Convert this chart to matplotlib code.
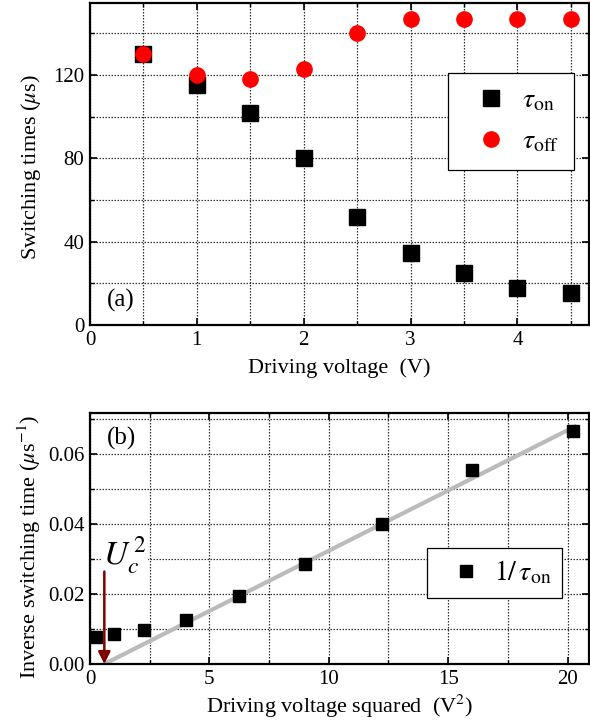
import matplotlib
matplotlib.use("Agg")
import matplotlib.pyplot as plt
from matplotlib.ticker import MultipleLocator, FormatStrFormatter

plt.rcParams['font.family'] = ['Liberation Serif', 'DejaVu Serif']
plt.rcParams['mathtext.fontset'] = 'stix'

# Panel (a) data
voltage = [0.5, 1.0, 1.5, 2.0, 2.5, 3.0, 3.5, 4.0, 4.5]
tau_on = [130, 115, 102, 80, 52, 34.7, 24.8, 17.9, 15.2]
tau_off = [130, 120, 118, 123, 140, 147, 147, 147, 147]

# Panel (b) data
voltage_sq = [0.25, 1.0, 2.25, 4.0, 6.25, 9.0, 12.25, 16.0, 20.25]
inv_tau_on = [0.0077, 0.0087, 0.0098, 0.0125, 0.0193, 0.0287, 0.0400, 0.0555, 0.0665]
fit_x = [0.6, 20.3]
fit_y = [0.0, 0.0678]
uc2 = 0.6

fig = plt.figure(figsize=(5.9, 7.25), dpi=100)
ax1 = fig.add_axes([90/590, 1-325/725, 499/590, 322/725])
ax2 = fig.add_axes([90/590, 1-664/725, 499/590, 251/725])

grid_kw = dict(color='#333333', linestyle=(0, (1.2, 1.2)), linewidth=0.9)
for ax in (ax1, ax2):
    for s in ax.spines.values():
        s.set_linewidth(1.6)
    ax.tick_params(which='both', direction='in', top=True, right=True, labelsize=15, pad=4)
    ax.tick_params(which='major', length=5, width=1.2)
    ax.tick_params(which='minor', length=3, width=1.0)
    ax.grid(True, which='both', **grid_kw)
    ax.set_axisbelow(True)

# (a)
ax1.plot(voltage, tau_on, 's', color='black', markersize=11, label=r'$\tau_{\rm on}$', zorder=3)
ax1.plot(voltage, tau_off, 'o', color='#ff0000', markersize=11, label=r'$\tau_{\rm off}$', zorder=4)
ax1.set_xlim(0, 4.67)
ax1.set_ylim(0, 154.6)
ax1.xaxis.set_major_locator(MultipleLocator(1))
ax1.xaxis.set_minor_locator(MultipleLocator(0.5))
ax1.yaxis.set_major_locator(MultipleLocator(40))
ax1.yaxis.set_minor_locator(MultipleLocator(20))
ax1.set_xlabel('Driving voltage  (V)', fontsize=16, labelpad=6)
ax1.set_ylabel(r'Switching times ($\mu$s)', fontsize=16)
ax1.yaxis.set_label_coords(-0.094, 0.49)
ax1.text(0.16, 12, '(a)', fontsize=18, ha='left', va='center',
         bbox=dict(facecolor='white', edgecolor='none', pad=1), zorder=5)
leg1 = ax1.legend(loc='upper left', bbox_to_anchor=(358/499, 1-(73-3)/322), fontsize=20,
                  frameon=True, fancybox=False, edgecolor='black', framealpha=1,
                  handletextpad=0.1, borderpad=0.55, labelspacing=0.55, borderaxespad=0,
                  handlelength=2.0, markerscale=1.0)
leg1.get_frame().set_linewidth(0.9)

# (b)
ax2.plot(fit_x, fit_y, '-', color='#bbbbbb', linewidth=3, zorder=2)
ax2.plot(voltage_sq, inv_tau_on, 's', color='black', markersize=9, label=r'$1/\,\tau_{\rm on}\ \ $', zorder=3)
ax2.set_xlim(0, 20.9)
ax2.set_ylim(0, 0.0717)
ax2.xaxis.set_major_locator(MultipleLocator(5))
ax2.xaxis.set_minor_locator(MultipleLocator(2.5))
ax2.yaxis.set_major_locator(MultipleLocator(0.02))
ax2.yaxis.set_minor_locator(MultipleLocator(0.01))
ax2.yaxis.set_major_formatter(FormatStrFormatter('%.2f'))
ax2.set_xlabel(r'Driving voltage squared  (V$^2$)', fontsize=16, labelpad=3)
ax2.set_ylabel(r'Inverse switching time ($\mu$s$^{-1}$)', fontsize=16)
ax2.yaxis.set_label_coords(-0.094, 0.466)
ax2.text(0.7, 0.0645, '(b)', fontsize=18, ha='left', va='center',
         bbox=dict(facecolor='white', edgecolor='none', pad=1), zorder=5)
ax2.annotate('', xy=(uc2, 0.0), xytext=(uc2, 0.0264),
             arrowprops=dict(arrowstyle='-|>', color='#800000', lw=1.8, mutation_scale=18,
                             shrinkA=0, shrinkB=0), zorder=6)
ax2.text(0.55, 0.0312, r'$U_c^{\,2}$', fontsize=24, ha='left', va='center',
         bbox=dict(facecolor='white', edgecolor='none', pad=1), zorder=5)
leg2 = ax2.legend(loc='upper left', bbox_to_anchor=(337/499, 1-(548-413)/251), fontsize=20,
                  frameon=True, fancybox=False, edgecolor='black', framealpha=1,
                  handletextpad=0.0, borderpad=0.4, borderaxespad=0, handlelength=2.0)
leg2.get_frame().set_linewidth(0.9)

fig.savefig('out.png', dpi=100)
